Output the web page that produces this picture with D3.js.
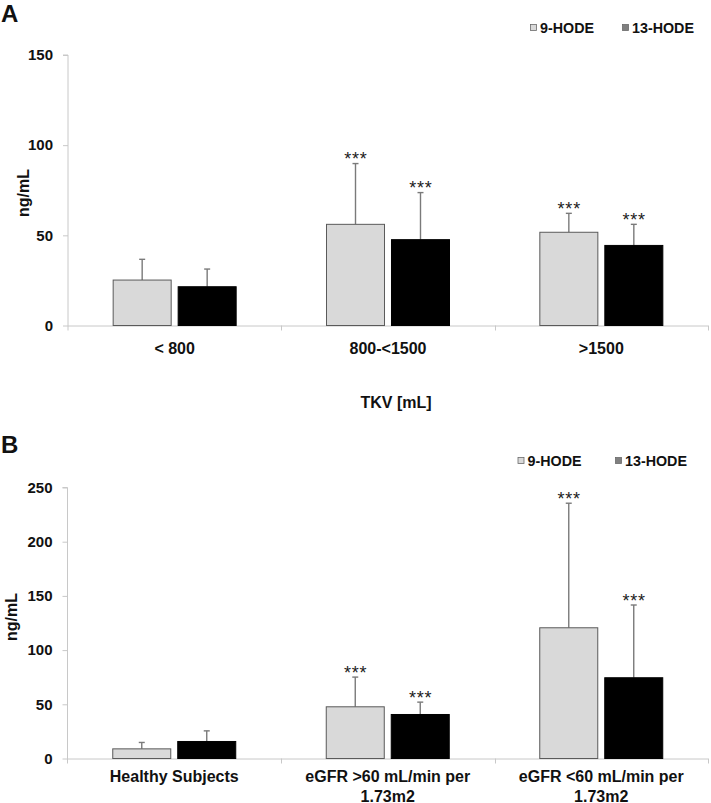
<!DOCTYPE html>
<html>
<head>
<meta charset="utf-8">
<script src="https://cdn.jsdelivr.net/npm/d3@7"></script>
<style>
  html, body { margin: 0; padding: 0; background: #fff; }
  svg { display: block; font-family: "Liberation Sans", Arial, sans-serif; }
</style>
</head>
<body>
<svg id="chart" width="711" height="803"></svg>
<script>
// ---------- data ----------
const seriesNames = ["9-HODE", "13-HODE"];

const categoriesA = [["< 800"], ["800-<1500"], [">1500"]];
const hode9A = [25.2, 56.1, 51.7];
const hode9ErrA = [11.5, 33.7, 10.5];
const hode13A = [21.5, 47.6, 44.4];
const hode13ErrA = [9.8, 26.1, 11.7];
const sigA = [false, true, true];
const ticksA = [0, 50, 100, 150];

const categoriesB = [["Healthy Subjects"], ["eGFR >60 mL/min per", "1.73m2"], ["eGFR <60 mL/min per", "1.73m2"]];
const hode9B = [8.9, 47.7, 120.6];
const hode9ErrB = [5.9, 27.4, 114.9];
const hode13B = [15.7, 40.6, 74.5];
const hode13ErrB = [9.8, 11.4, 67.1];
const sigB = [false, true, true];
const ticksB = [0, 50, 100, 150, 200, 250];

// ---------- drawing ----------
const svg = d3.select("#chart");
const fills = { "9-HODE": "#d9d9d9", "13-HODE": "#000000" };
const legendFills = { "9-HODE": "#d9d9d9", "13-HODE": "#808080" };
const axisColor = "#c8c8c8";
const textColor = "#111";

function panel(opts) {
  const g = svg.append("g");
  const x0 = d3.scaleBand().domain(d3.range(opts.categories.length))
    .range([opts.left, opts.right]).paddingInner(0).paddingOuter(0);
  const y = d3.scaleLinear().domain([0, opts.max]).range([opts.bottom, opts.top]);
  const bw = x0.bandwidth();
  const x1 = d3.scaleBand().domain(seriesNames)
    .range([bw / 2 - 62, bw / 2 + 62]).paddingInner(0.092).paddingOuter(0);

  // panel letter
  g.append("text").attr("x", 1).attr("y", opts.letterY)
    .attr("font-size", 24).attr("font-weight", "bold").attr("fill", textColor)
    .text(opts.letter);

  // y axis
  const yAxis = d3.axisLeft(y).tickValues(opts.ticks).tickSize(5).tickPadding(10);
  const ya = g.append("g").attr("transform", `translate(${opts.left},0)`).call(yAxis);
  ya.select(".domain").attr("stroke", axisColor).attr("d", `M-5,${opts.top}H0V${opts.bottom + 5}`);
  ya.selectAll(".tick line").attr("stroke", axisColor);
  ya.selectAll(".tick text").attr("font-size", 15).attr("font-weight", "bold")
    .attr("fill", textColor).attr("font-family", "Liberation Sans, Arial, sans-serif");

  // x axis line and category boundary ticks
  const xa = g.append("g");
  xa.append("line").attr("x1", opts.left).attr("x2", opts.right)
    .attr("y1", opts.bottom + 0.5).attr("y2", opts.bottom + 0.5).attr("stroke", axisColor);
  const bounds = d3.range(opts.categories.length + 1).map(i => i < opts.categories.length ? x0(i) : x0(i - 1) + bw);
  xa.selectAll("line.bt").data(bounds.slice(1)).join("line").attr("class", "bt")
    .attr("x1", d => Math.round(d) + 0.5).attr("x2", d => Math.round(d) + 0.5)
    .attr("y1", opts.bottom).attr("y2", opts.bottom + 5).attr("stroke", axisColor);

  // category labels
  opts.categories.forEach((lines, i) => {
    const t = g.append("text").attr("text-anchor", "middle")
      .attr("font-size", 16).attr("font-weight", "bold").attr("fill", textColor)
      .attr("x", x0(i) + bw / 2).attr("y", opts.catY);
    lines.forEach((ln, k) => {
      t.append("tspan").attr("x", x0(i) + bw / 2).attr("dy", k === 0 ? 0 : 19.5).text(ln);
    });
  });

  // bars
  const rows = opts.categories.map((c, i) => ({
    i,
    vals: [
      { s: "9-HODE", v: opts.s9[i], e: opts.e9[i] },
      { s: "13-HODE", v: opts.s13[i], e: opts.e13[i] }
    ],
    sig: opts.sig[i]
  }));
  const grp = g.selectAll("g.grp").data(rows).join("g").attr("class", "grp")
    .attr("transform", d => `translate(${x0(d.i)},0)`);

  // error bars (drawn first, then bars over)
  grp.each(function (d) {
    const gg = d3.select(this);
    d.vals.forEach(o => {
      const cx = x1(o.s) + x1.bandwidth() / 2;
      gg.append("line").attr("x1", cx).attr("x2", cx)
        .attr("y1", y(o.v)).attr("y2", y(o.v + o.e))
        .attr("stroke", "#7a7a7a").attr("stroke-width", 1.4);
      gg.append("line").attr("x1", cx - 3).attr("x2", cx + 3)
        .attr("y1", y(o.v + o.e)).attr("y2", y(o.v + o.e))
        .attr("stroke", "#7a7a7a").attr("stroke-width", 1.4);
      if (d.sig) {
        gg.append("text").attr("x", cx + 0.4).attr("y", y(o.v + o.e) + 1.5)
          .attr("text-anchor", "middle").attr("font-size", 18)
          .attr("letter-spacing", 0.8).attr("fill", "#1a1a1a")
          .attr("opacity", 0.99).text("***");
      }
    });
  });

  grp.selectAll("rect").data(d => d.vals).join("rect")
    .attr("x", d => x1(d.s) + 0.5)
    .attr("y", d => y(d.v))
    .attr("width", x1.bandwidth() - 1)
    .attr("height", d => y(0) - y(d.v))
    .attr("fill", d => fills[d.s])
    .attr("stroke", d => d.s === "9-HODE" ? "#5a5a5a" : "#000")
    .attr("stroke-width", 1);

  // legend
  const lg = g.append("g");
  seriesNames.forEach((s, k) => {
    const lx = opts.legendX[k];
    lg.append("rect").attr("x", lx).attr("y", opts.legendY - 3).attr("width", 6).attr("height", 6)
      .attr("fill", legendFills[s]).attr("stroke", "#6a6a6a").attr("stroke-width", 0.8);
    lg.append("text").attr("x", lx + 9.5).attr("y", opts.legendY)
      .attr("dominant-baseline", "central")
      .attr("font-size", 14.3).attr("font-weight", "bold").attr("fill", textColor).text(s);
  });

  // y label
  g.append("text").attr("transform", `translate(${opts.yLabelX},${opts.yLabelY}) rotate(-90)`)
    .attr("text-anchor", "middle").attr("dominant-baseline", "central")
    .attr("font-size", 16).attr("font-weight", "bold").attr("fill", textColor).text("ng/mL");

  if (opts.xTitle) {
    g.append("text").attr("x", opts.xTitleX).attr("y", opts.xTitleY)
      .attr("text-anchor", "middle").attr("dominant-baseline", "central")
      .attr("font-size", 16).attr("font-weight", "bold").attr("fill", textColor).text(opts.xTitle);
  }
}

panel({
  letter: "A", letterY: 22,
  categories: categoriesA, s9: hode9A, e9: hode9ErrA, s13: hode13A, e13: hode13ErrA, sig: sigA,
  ticks: ticksA, max: 150,
  left: 68, right: 708, top: 55, bottom: 325.5,
  catY: 354,
  legendX: [530.5, 622.5], legendY: 27.5,
  yLabelX: 23, yLabelY: 193,
  xTitle: "TKV [mL]", xTitleX: 396, xTitleY: 402
});

panel({
  letter: "B", letterY: 453,
  categories: categoriesB, s9: hode9B, e9: hode9ErrB, s13: hode13B, e13: hode13ErrB, sig: sigB,
  ticks: ticksB, max: 250,
  left: 67.5, right: 708, top: 487.5, bottom: 758.5,
  catY: 782,
  legendX: [518, 615.5], legendY: 460.5,
  yLabelX: 11, yLabelY: 617
});
</script>
</body>
</html>
